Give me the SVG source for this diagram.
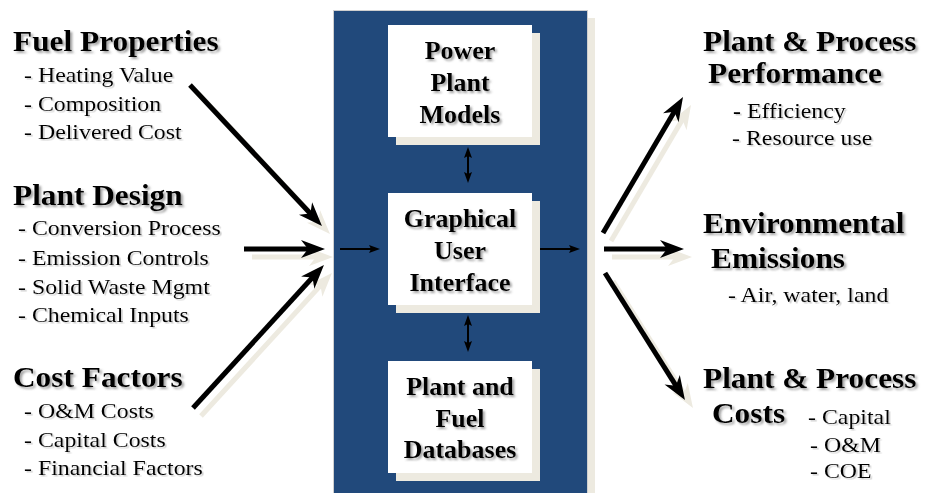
<svg xmlns="http://www.w3.org/2000/svg" width="925" height="493" viewBox="0 0 925 493">
<defs>
<style>
.h{font-family:"Liberation Serif","Times New Roman",serif;font-weight:bold;font-size:28.5px;fill:#000;filter:url(#ts)}
.i{font-family:"Liberation Serif","Times New Roman",serif;font-size:21.3px;fill:#000;filter:url(#ts2)}
.b{font-family:"Liberation Serif","Times New Roman",serif;font-weight:bold;font-size:26px;fill:#000;text-anchor:middle;filter:url(#ts)}
.box{fill:#fff}
.bsh{fill:#EDEAE0}
.big{stroke:#000;stroke-width:5;fill:none;marker-end:url(#ah)}
.bigs{stroke:#EDEAE0;stroke-width:5;fill:none;marker-end:url(#ahs)}
.sm{stroke:#000;stroke-width:2;fill:none;marker-end:url(#sa)}
.dbl{stroke:#000;stroke-width:2;fill:none;marker-end:url(#sa);marker-start:url(#sa)}
</style>
<filter id="ts" x="-10%" y="-20%" width="120%" height="150%">
<feDropShadow dx="2" dy="2" stdDeviation="0.8" flood-color="#666" flood-opacity="0.6"/>
</filter>
<filter id="ts2" x="-10%" y="-20%" width="120%" height="150%">
<feDropShadow dx="1.5" dy="1.5" stdDeviation="0.7" flood-color="#888" flood-opacity="0.4"/>
</filter>
<marker id="ah" markerUnits="userSpaceOnUse" viewBox="-12 -12 28 24" markerWidth="28" markerHeight="24" refX="0" refY="0" orient="auto">
<path d="M14,0 L-10,-9 L-3,0 L-10,9 Z" fill="#000"/>
</marker>
<marker id="ahs" markerUnits="userSpaceOnUse" viewBox="-12 -12 28 24" markerWidth="28" markerHeight="24" refX="0" refY="0" orient="auto">
<path d="M14,0 L-10,-9 L-3,0 L-10,9 Z" fill="#EDEAE0"/>
</marker>
<marker id="sa" markerUnits="userSpaceOnUse" viewBox="-8 -6 16 12" markerWidth="16" markerHeight="12" refX="0" refY="0" orient="auto-start-reverse">
<path d="M6,0 L-5,-4 L-3,0 L-5,4 Z" fill="#000"/>
</marker>
</defs>
<rect x="0" y="0" width="925" height="493" fill="#fff"/>

<g id="panel">
<rect x="341" y="18" width="254" height="490" fill="#EDEAE0"/>
<rect x="333.5" y="10.5" width="254" height="490" fill="#21497B" stroke="#CFCFCF" stroke-width="1"/>
</g>

<g id="power-plant-models">
<rect class="bsh" x="396" y="33" width="144" height="112"/>
<rect class="box" x="388" y="25" width="144" height="112"/>
<text class="b" x="460" y="59">Power</text>
<text class="b" x="460" y="91">Plant</text>
<text class="b" x="460" y="123">Models</text>
</g>

<g id="gui">
<rect class="bsh" x="396" y="201" width="144" height="112"/>
<rect class="box" x="388" y="193" width="144" height="112"/>
<text class="b" x="460" y="227">Graphical</text>
<text class="b" x="460" y="259">User</text>
<text class="b" x="460" y="291">Interface</text>
</g>

<g id="databases">
<rect class="bsh" x="396" y="369" width="144" height="112"/>
<rect class="box" x="388" y="361" width="144" height="112"/>
<text class="b" x="460" y="395">Plant and</text>
<text class="b" x="460" y="427">Fuel</text>
<text class="b" x="460" y="458">Databases</text>
</g>

<g id="fuel-properties">
<text class="h" transform="translate(13,51) scale(1.1,1)">Fuel Properties</text>
<text class="i" transform="translate(24,82) scale(1.12,1)">- Heating Value</text>
<text class="i" transform="translate(24,111) scale(1.12,1)">- Composition</text>
<text class="i" transform="translate(24,139) scale(1.12,1)">- Delivered Cost</text>
</g>

<g id="plant-design">
<text class="h" transform="translate(13,205) scale(1.1,1)">Plant Design</text>
<text class="i" transform="translate(18,235) scale(1.12,1)">- Conversion Process</text>
<text class="i" transform="translate(18,265) scale(1.12,1)">- Emission Controls</text>
<text class="i" transform="translate(18,294) scale(1.12,1)">- Solid Waste Mgmt</text>
<text class="i" transform="translate(18,322) scale(1.12,1)">- Chemical Inputs</text>
</g>

<g id="cost-factors">
<text class="h" transform="translate(13,387) scale(1.1,1)">Cost Factors</text>
<text class="i" transform="translate(24,418) scale(1.12,1)">- O&amp;M Costs</text>
<text class="i" transform="translate(24,447) scale(1.12,1)">- Capital Costs</text>
<text class="i" transform="translate(24,475) scale(1.12,1)">- Financial Factors</text>
</g>

<g id="performance">
<text class="h" transform="translate(703,51) scale(1.1,1)">Plant &amp; Process</text>
<text class="h" transform="translate(708,83) scale(1.1,1)">Performance</text>
<text class="i" transform="translate(733,118) scale(1.12,1)"><tspan font-weight="bold">-</tspan> Efficiency</text>
<text class="i" transform="translate(732,145) scale(1.12,1)">- Resource use</text>
</g>

<g id="emissions">
<text class="h" transform="translate(703,233) scale(1.1,1)">Environmental</text>
<text class="h" transform="translate(711,268) scale(1.1,1)">Emissions</text>
<text class="i" transform="translate(728,302) scale(1.12,1)">- Air, water, land</text>
</g>

<g id="costs">
<text class="h" transform="translate(703,388) scale(1.1,1)">Plant &amp; Process</text>
<text class="h" transform="translate(712,423) scale(1.1,1)">Costs</text>
<text class="i" transform="translate(808,424) scale(1.12,1)">- Capital</text>
<text class="i" transform="translate(810,452) scale(1.12,1)">- O&amp;M</text>
<text class="i" transform="translate(810,478) scale(1.12,1)">- COE</text>
</g>

<g id="connectors">
<g transform="translate(8,8)">
<line class="bigs" x1="190" y1="85" x2="312.4" y2="215.8"/>
<line class="bigs" x1="244" y1="249" x2="311" y2="249"/>
<line class="bigs" x1="193" y1="408" x2="314.5" y2="275.3"/>
<line class="bigs" x1="603" y1="233" x2="675.9" y2="109.1"/>
<line class="bigs" x1="604" y1="249" x2="670" y2="249"/>
<line class="bigs" x1="605" y1="273" x2="677.5" y2="388.2"/>
</g>
<line class="big" x1="190" y1="85" x2="312.4" y2="215.8"/>
<line class="big" x1="244" y1="249" x2="311" y2="249"/>
<line class="big" x1="193" y1="408" x2="314.5" y2="275.3"/>
<line class="big" x1="603" y1="233" x2="675.9" y2="109.1"/>
<line class="big" x1="604" y1="249" x2="670" y2="249"/>
<line class="big" x1="605" y1="273" x2="677.5" y2="388.2"/>
<line class="sm" x1="340" y1="249" x2="374" y2="249"/>
<line class="sm" x1="540" y1="249" x2="574" y2="249"/>
<line class="dbl" x1="468" y1="153" x2="468" y2="177"/>
<line class="dbl" x1="468" y1="321" x2="468" y2="346"/>
</g>
</svg>
